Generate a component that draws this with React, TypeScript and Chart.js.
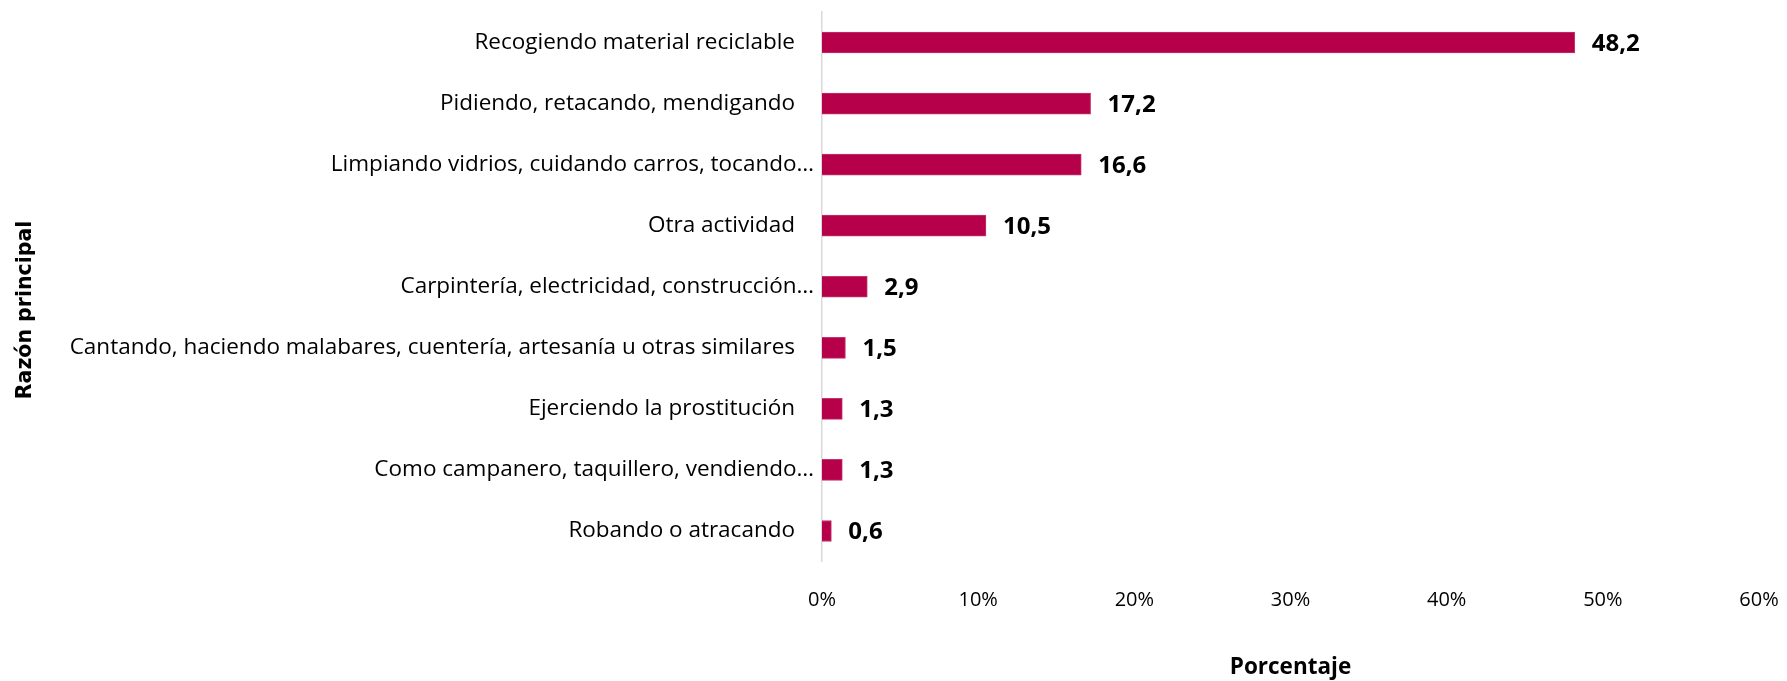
import React, { useEffect, useRef } from 'react';
import { Chart, registerables } from 'chart.js';

Chart.register(...registerables);

const categories = [
  'Recogiendo material reciclable',
  'Pidiendo, retacando, mendigando',
  'Limpiando vidrios, cuidando carros, tocando…',
  'Otra actividad',
  'Carpintería, electricidad, construcción…',
  'Cantando, haciendo malabares, cuentería, artesanía u otras similares',
  'Ejerciendo la prostitución',
  'Como campanero, taquillero, vendiendo…',
  'Robando o atracando',
];
const values = [48.2, 17.2, 16.6, 10.5, 2.9, 1.5, 1.3, 1.3, 0.6];
const xMin = 0;
const xMax = 60;
const xStep = 10;
const xTitle = 'Porcentaje';
const yTitle = 'Razón principal';

const W = 1787;
const H = 681;

const labelsPlugin = {
  id: 'customLabels',
  afterDatasetsDraw(chart: any) {
    const { ctx, scales, chartArea } = chart;
    const y = scales.y;
    const meta = chart.getDatasetMeta(0);
    ctx.save();
    ctx.fillStyle = '#000';
    ctx.textBaseline = 'middle';
    ctx.textAlign = 'right';
    ctx.font = '22.5px "Open Sans"';
    categories.forEach((c, i) => {
      const py = y.getPixelForValue(i);
      const off = c.endsWith('…') ? 8 : 27;
      ctx.fillText(c, chartArea.left - off, py);
    });
    ctx.textAlign = 'left';
    ctx.font = 'bold 24px "Open Sans"';
    meta.data.forEach((bar: any, i: number) => {
      ctx.fillText(values[i].toFixed(1).replace('.', ','), bar.x + 17, bar.y + 1.5);
    });
    ctx.translate(26, 310);
    ctx.rotate(-Math.PI / 2);
    ctx.textAlign = 'center';
    ctx.font = 'bold 20.5px "DejaVu Sans"';
    ctx.fillText(yTitle, 0, 0);
    ctx.restore();
  },
};

export default function App() {
  const ref = useRef<HTMLCanvasElement>(null);
  useEffect(() => {
    document.body.style.margin = '0';
    const chart = new Chart(ref.current as HTMLCanvasElement, {
      type: 'bar',
      data: {
        labels: categories,
        datasets: [
          {
            data: values,
            backgroundColor: '#B7004A',
            borderColor: '#C2346B',
            borderWidth: 1,
            barThickness: 21,
          },
        ],
      },
      options: {
        indexAxis: 'y',
        responsive: false,
        maintainAspectRatio: false,
        animation: false,
        layout: { padding: { left: 822, right: 28, top: 12, bottom: 0 } },
        plugins: { legend: { display: false }, tooltip: { enabled: false } },
        scales: {
          x: {
            min: xMin,
            max: xMax,
            grid: { display: false, drawTicks: false },
            border: { display: false },
            afterFit: (s: any) => {
              s.paddingLeft = 0;
              s.paddingRight = 0;
            },
            ticks: {
              stepSize: xStep,
              padding: 27,
              color: '#000',
              font: { family: '"Open Sans"', size: 20 },
              callback: (v: any) => v + '%',
            },
            title: {
              display: true,
              text: xTitle,
              color: '#000',
              font: { family: '"Open Sans"', size: 22.5, weight: 'bold' },
              padding: { top: 14.5, bottom: 0 },
            },
          },
          y: {
            grid: { display: false, drawTicks: false },
            border: { display: true, color: '#d9d9d9', width: 1.5 },
            ticks: { display: false },
          },
        },
      },
      plugins: [labelsPlugin],
    });
    return () => chart.destroy();
  }, []);
  return <canvas ref={ref} width={W} height={H} style={{ display: 'block', width: W, height: H }} />;
}
